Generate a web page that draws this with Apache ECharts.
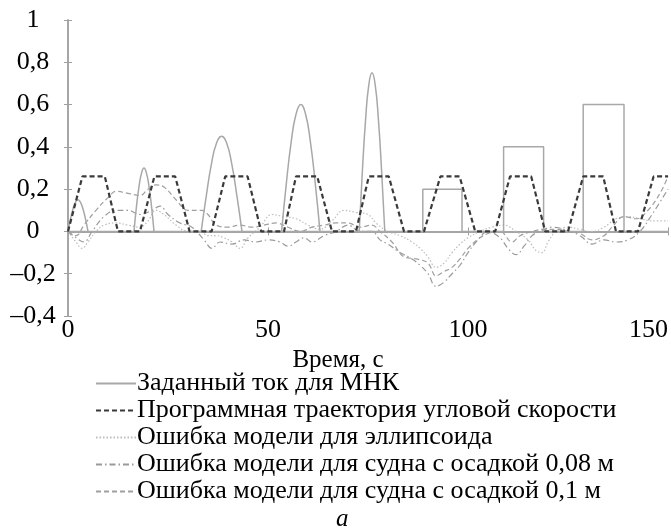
<!DOCTYPE html>
<html><head><meta charset="utf-8">
<script src="https://cdn.jsdelivr.net/npm/echarts@6/dist/echarts.min.js"></script>
<style>html,body{margin:0;padding:0;background:#fff}#c{width:671px;height:531px}</style>
</head><body><div id="c"></div>
<script>
// Series names
const names = [
  'Заданный ток для МНК',
  'Программная траектория угловой скорости',
  'Ошибка модели для эллипсоида',
  'Ошибка модели для судна с осадкой 0,08 м',
  'Ошибка модели для судна с осадкой 0,1 м'
];
const xTicks = [0, 50, 100, 150];
const yTicks = [-0.4, -0.2, 0, 0.2, 0.4, 0.6, 0.8, 1];

// Заданный ток: sine-like pulses (time, value); null separates pulses
const currentPulses = [
  [0,0],[0.6,0.057],[1.25,0.106],[1.9,0.139],[2.5,0.15],[3.1,0.139],[3.75,0.106],[4.4,0.057],[5,0],
  null,
  [16.5,0],[17.1,0.115],[17.75,0.212],[18.4,0.277],[19,0.3],[19.6,0.277],[20.25,0.212],[20.9,0.115],[21.5,0],
  null,
  [33.3,0],[34.6,0.172],[35.85,0.318],[37.1,0.416],[38.4,0.45],[39.7,0.416],[40.95,0.318],[42.2,0.172],[43.5,0],
  null,
  [53.4,0],[54.6,0.23],[55.8,0.424],[57,0.554],[58.2,0.6],[59.4,0.554],[60.6,0.424],[61.8,0.23],[63,0],
  null,
  [72.8,0],[73.6,0.287],[74.4,0.53],[75.2,0.693],[76,0.75],[76.8,0.693],[77.6,0.53],[78.4,0.287],[79.2,0]
];
// Заданный ток: zero level and rectangular steps
const currentSteps = [
  [0,0],[88.7,0],[88.7,0.2],[98.5,0.2],[98.5,0],
  [108.9,0],[108.9,0.4],[118.9,0.4],[118.9,0],
  [128.8,0],[128.8,0.6],[139,0.6],[139,0],[150,0]
];
// Программная траектория угловой скорости
const trajectory = [
  [0,0],[3.6,0.26],[9.2,0.26],[12.5,0],[18,0],[21.6,0.26],[26.8,0.26],[30.4,0],
  [35.9,0],[39.3,0.26],[44.9,0.26],[48.3,0],[54,0],[57,0.26],[62.3,0.26],[66,0],
  [72,0],[75.2,0.26],[80.2,0.26],[84,0],[89,0],[93.1,0.26],[97.9,0.26],[101.8,0],
  [106.8,0],[110.5,0.26],[115.8,0.26],[119.3,0],[125,0],[128.8,0.26],[133.8,0.26],[137,0],
  [142.5,0],[146.4,0.26],[150,0.26]
];
// Ошибка модели для эллипсоида
const errEllipsoid = [
  [0,0],[2,-0.05],[3.5,-0.08],[5,-0.05],[7,0],[9,0.03],[12,0.04],[15,0.03],[18,0.02],[20,0.05],
  [22,0.1],[24,0.08],[27,0.03],[30,0],[33,0],[35,-0.02],[37,-0.02],[39,-0.03],[41,-0.05],[43,-0.08],
  [45,-0.03],[48,0.02],[51,0.08],[54,0.07],[57,0.06],[60,0.03],[63,0.01],[66,0.05],[69,0.1],[72,0.09],
  [75,0.08],[77,0.04],[80,0],[83,-0.02],[86,-0.05],[88,-0.08],[90,-0.12],[92,-0.17],[94,-0.15],[96,-0.1],
  [98,-0.06],[100,-0.03],[103,0],[106,0.02],[109,0.03],[112,0],[115,-0.04],[117,-0.09],[118.5,-0.1],[120,-0.05],
  [122,0],[125,0.02],[128,0.01],[131,0],[134,0.02],[137,0.06],[140,0.07],[143,0.06],[146,0.05],[150,0.05]
];
// Ошибка модели для судна с осадкой 0,08 м
const err008 = [
  [0,0],[2,-0.03],[4,-0.05],[6,0],[9,0.07],[12,0.1],[15,0.1],[18,0.08],[21,0.1],[23,0.12],
  [25,0.08],[28,0.04],[31,0.02],[34,-0.04],[36,-0.08],[38,-0.05],[41,-0.06],[44,-0.04],[47,-0.05],[50,-0.04],
  [53,-0.05],[55,-0.07],[57,-0.05],[59,-0.03],[61,-0.05],[64,-0.02],[67,0],[70,0.03],[73,0],[76,0],
  [78,-0.04],[80,-0.06],[83,-0.1],[86,-0.13],[88,-0.16],[90,-0.2],[92,-0.26],[94,-0.24],[96,-0.2],[98,-0.16],
  [100,-0.1],[102,-0.05],[105,0],[108,-0.03],[110,-0.08],[112,-0.11],[114,-0.07],[116,-0.02],[118,0],[121,0.02],
  [124,0.01],[128,-0.02],[131,-0.06],[134,-0.04],[137,-0.05],[140,-0.04],[143,0],[146,0.08],[150,0.2]
];
// Ошибка модели для судна с осадкой 0,1 м
const err01 = [
  [0,0],[2,-0.02],[4,0.03],[7,0.1],[10,0.16],[12,0.19],[15,0.18],[18,0.17],[20,0.2],[22,0.22],
  [24,0.21],[27,0.15],[30,0.1],[33.5,0.1],[35,0.08],[37,0.03],[40,0.02],[43,0.03],[46,0.02],[49,0.03],
  [52,0.04],[55,0.02],[58,0],[61,0.02],[64,0.03],[67,0.04],[70,0.04],[73,0.02],[76,0.03],[78,0],
  [81,-0.05],[84,-0.12],[87,-0.13],[90,-0.15],[92,-0.21],[94,-0.19],[96,-0.17],[98,-0.13],[100,-0.08],[103,-0.03],
  [105,-0.01],[108,0],[111,-0.05],[113,-0.02],[116,0],[119,0.01],[122,0.01],[125,0],[128,-0.01],[131,-0.04],
  [134,-0.02],[136,0.02],[139,0.07],[142,0.06],[145,0.1],[148,0.18],[150,0.26]
];

const serif = "'Liberation Serif', 'DejaVu Serif', serif";
const axisColor = '#a0a0a0';
const fmtY = v => {
  const r = Math.round(v * 10) / 10;
  if (r === 0) return '0';
  if (r === 1) return '1';
  return (r < 0 ? '–' : '') + Math.abs(r).toFixed(1).replace('.', ',');
};
const currentStyle = {color: '#a8a8a8', width: 1.5, type: 'solid'};

const chart = echarts.init(document.getElementById('c'), null, {renderer: 'canvas'});
chart.setOption({
  animation: false,
  backgroundColor: '#fff',
  grid: {left: 68, top: 20, width: 602, height: 296, containLabel: false},
  title: {text: 'а', left: 336, top: 507, padding: 0, textStyle: {fontFamily: serif, fontStyle: 'italic', fontWeight: 'normal', fontSize: 25, color: '#000'}},
  legend: {
    orient: 'vertical', left: 95, top: 370, padding: 0, itemWidth: 40, itemHeight: 12, itemGap: 0,
    data: names,
    itemStyle: {opacity: 0},
    textStyle: {fontFamily: serif, fontSize: 26, lineHeight: 27, color: '#000', padding: [0,0,0,-4]},
    selectedMode: false
  },
  xAxis: [{
    type: 'value', min: 0, max: 150, interval: 50,
    name: 'Время, с', nameLocation: 'middle', nameGap: 25,
    nameTextStyle: {fontFamily: serif, fontSize: 25, color: '#000', padding: [0, 60, 0, 0]},
    axisLine: {show: true, lineStyle: {color: axisColor, width: 1.5}},
    axisTick: {show: true, inside: true, length: 4, lineStyle: {color: axisColor}},
    axisLabel: {fontFamily: serif, fontSize: 26, color: '#000', margin: 1, alignMaxLabel: 'right',
      formatter: v => xTicks.includes(v) ? String(v) : ''},
    splitLine: {show: false}
  }, {
    type: 'value', min: 0, max: 150, interval: 50, position: 'top',
    axisLine: {show: true, lineStyle: {color: axisColor, width: 1.5}},
    axisTick: {show: true, inside: true, length: 4, lineStyle: {color: axisColor}},
    axisLabel: {show: false}, splitLine: {show: false}
  }],
  yAxis: [{
    type: 'value', min: -0.4, max: 1, interval: 0.2,
    axisLine: {show: true, lineStyle: {color: axisColor, width: 1.5}},
    axisTick: {show: true, inside: true, length: 4, lineStyle: {color: axisColor}},
    axisLabel: {fontFamily: serif, fontSize: 26, color: '#000', margin: 35, align: 'center', formatter: fmtY},
    splitLine: {show: false}
  }, {
    type: 'value', min: -0.4, max: 1, interval: 0.2, position: 'right',
    axisLine: {show: true, lineStyle: {color: axisColor, width: 1.5}},
    axisTick: {show: true, inside: true, length: 4, lineStyle: {color: axisColor}},
    axisLabel: {show: false}, splitLine: {show: false}
  }],
  series: [
    {name: names[2], type: 'line', data: errEllipsoid, smooth: 0.4, symbol: 'none',
     lineStyle: {color: '#bdbdbd', width: 1.2, type: [1.5, 2]}, itemStyle: {color: '#bdbdbd'}},
    {name: names[3], type: 'line', data: err008, smooth: 0.4, symbol: 'none',
     lineStyle: {color: '#9a9a9a', width: 1.2, type: [6, 3, 1.5, 3]}, itemStyle: {color: '#9a9a9a'}},
    {name: names[4], type: 'line', data: err01, smooth: 0.4, symbol: 'none',
     lineStyle: {color: '#a0a0a0', width: 1.2, type: [5, 3]}, itemStyle: {color: '#a0a0a0'}},
    {name: names[0], type: 'line', data: currentSteps, symbol: 'none',
     lineStyle: currentStyle, itemStyle: {color: '#a8a8a8'}},
    {name: names[0], type: 'line', data: currentPulses, symbol: 'none', smooth: 0.5, connectNulls: false,
     lineStyle: currentStyle, itemStyle: {color: '#a8a8a8'}},
    {name: names[1], type: 'line', data: trajectory, symbol: 'none',
     lineStyle: {color: '#3a3a3a', width: 2.2, type: [5, 3]}, itemStyle: {color: '#3a3a3a'}}
  ]
});
</script>
</body></html>
